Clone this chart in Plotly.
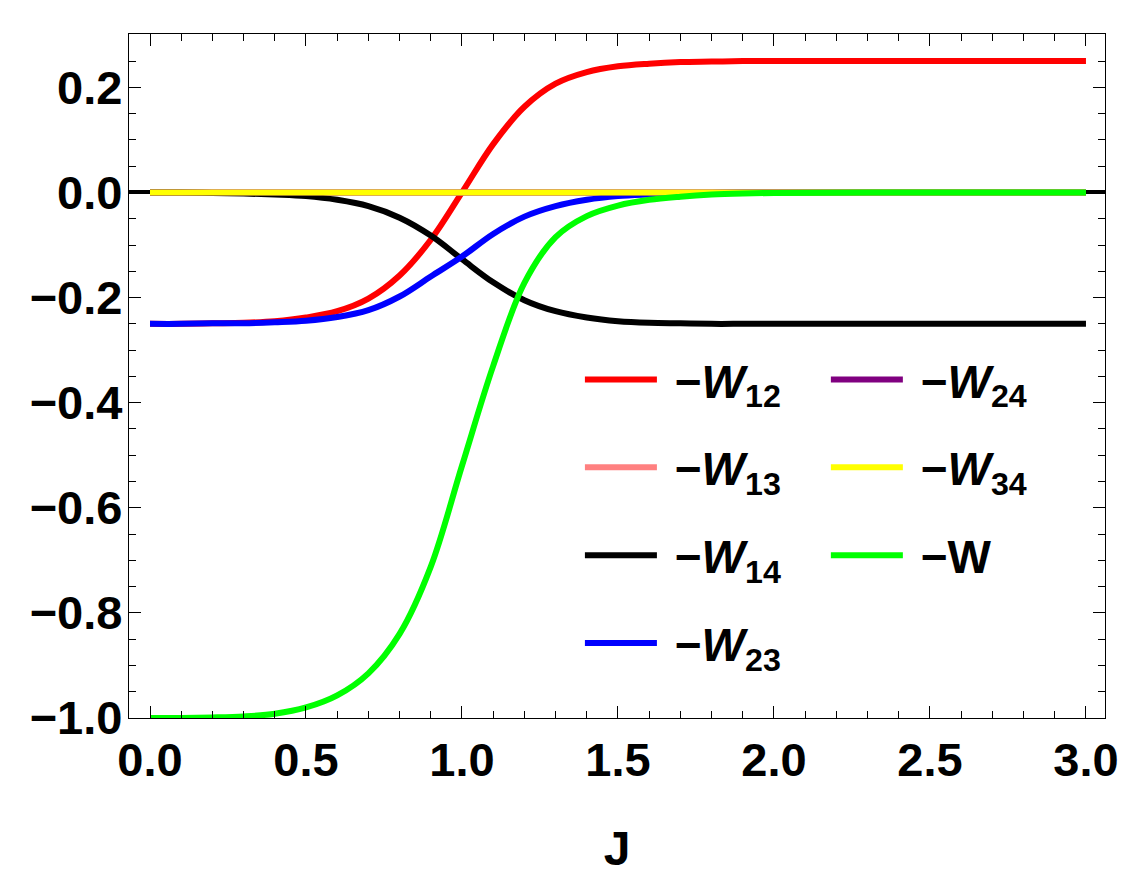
import plotly.graph_objects as go

# coupling J and the plotted quantities (-W_ij, -W)
J = [0.0, 0.1, 0.2, 0.3, 0.4, 0.5, 0.6, 0.7, 0.8, 0.9, 1.0,
     1.1, 1.2, 1.3, 1.4, 1.5, 1.6, 1.7, 1.8, 1.9, 2.0, 2.5, 3.0]

neg_w12 = [-0.250, -0.250, -0.249, -0.248, -0.245, -0.238, -0.226, -0.202, -0.158, -0.090, 0.000,
           0.092, 0.163, 0.207, 0.229, 0.240, 0.245, 0.248, 0.249, 0.250, 0.250, 0.250, 0.250]
neg_w13 = [0.0] * 23
neg_w14 = [0.000, 0.000, -0.001, -0.002, -0.004, -0.007, -0.014, -0.026, -0.048, -0.082, -0.127,
           -0.171, -0.205, -0.226, -0.238, -0.245, -0.248, -0.249, -0.250, -0.250, -0.250, -0.250, -0.250]
neg_w23 = [-0.250, -0.250, -0.249, -0.249, -0.247, -0.244, -0.237, -0.224, -0.198, -0.160, -0.122,
           -0.079, -0.046, -0.026, -0.014, -0.007, -0.004, -0.002, -0.001, 0.000, 0.000, 0.000, 0.000]
neg_w24 = [0.0] * 23
neg_w34 = [0.0] * 23
neg_w = [-1.000, -1.000, -0.999, -0.997, -0.992, -0.980, -0.957, -0.915, -0.840, -0.712, -0.520,
         -0.330, -0.172, -0.085, -0.045, -0.025, -0.014, -0.008, -0.004, -0.002, -0.001, 0.000, 0.000]

y_ticks = [-1.0, -0.8, -0.6, -0.4, -0.2, 0.0, 0.2]
x_ticks = [0.0, 0.5, 1.0, 1.5, 2.0, 2.5, 3.0]

series = [
    ("\u00a0−<i>W</i><sub>12</sub>", neg_w12, "#ff0000", "legend"),
    ("\u00a0−<i>W</i><sub>13</sub>", neg_w13, "#ff8080", "legend"),
    ("\u00a0−<i>W</i><sub>14</sub>", neg_w14, "#000000", "legend"),
    ("\u00a0−<i>W</i><sub>23</sub>", neg_w23, "#0000ff", "legend"),
    ("\u00a0−<i>W</i><sub>24</sub>", neg_w24, "#800080", "legend2"),
    ("\u00a0−<i>W</i><sub>34</sub>", neg_w34, "#ffff00", "legend2"),
    ("\u00a0−W", neg_w, "#00ff00", "legend2"),
]

FONT = "Liberation Sans, Arial, sans-serif"

fig = go.Figure()
for i, (name, vals, color, leg) in enumerate(series):
    fig.add_trace(go.Scatter(
        x=J, y=vals, mode="lines", name=name,
        line=dict(color=color, width=6, shape="spline"),
        legend=leg, legendgroup=str(i),
    ))

axis_common = dict(
    showline=True, linecolor="black", linewidth=1.3, mirror="ticks",
    ticks="inside", ticklen=12, tickwidth=1.3, tickcolor="black",
    showgrid=False, layer="above traces",
    tickfont=dict(family=FONT, size=47, color="black", weight="bold"),
    tickformat=".1f",
)

fig.update_xaxes(
    **axis_common,
    range=[-0.0673, 3.061], tickvals=x_ticks, zeroline=False,
    ticklabelstandoff=0,
    minor=dict(dtick=0.1, tick0=0, ticks="inside", ticklen=7, tickwidth=1.3, tickcolor="black"),
    title=dict(text="J", font=dict(family=FONT, size=48, color="black", weight="bold"), standoff=46),
)
fig.update_yaxes(
    **axis_common,
    range=[-1.0, 0.3015], tickvals=y_ticks,
    ticklabelstandoff=-4,
    zeroline=True, zerolinecolor="black", zerolinewidth=3.5,
    minor=dict(dtick=0.05, tick0=0, ticks="inside", ticklen=7, tickwidth=1.3, tickcolor="black"),
)

legend_font = dict(family=FONT, size=46, color="black", weight="bold")
fig.update_layout(
    width=1140, height=881,
    margin=dict(l=121, r=43, t=26, b=171),
    paper_bgcolor="white", plot_bgcolor="white",
    legend=dict(x=0.462, y=0.548, xanchor="left", yanchor="top", font=legend_font,
                bgcolor="rgba(0,0,0,0)", tracegroupgap=25, itemwidth=72),
    legend2=dict(x=0.714, y=0.548, xanchor="left", yanchor="top", font=legend_font,
                 bgcolor="rgba(0,0,0,0)", tracegroupgap=25, itemwidth=72),
)

fig.write_html("out.html")
